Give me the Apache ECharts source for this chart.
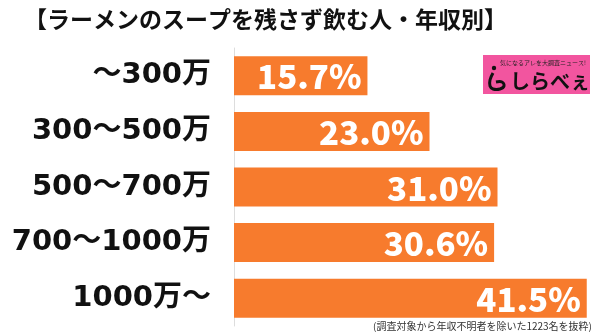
<!DOCTYPE html>
<html>
<head>
<meta charset="utf-8">
<script src="https://cdn.jsdelivr.net/npm/echarts@6/dist/echarts.min.js"></script>
<style>
  html, body { margin: 0; padding: 0; background: #fff; }
  #chart { width: 600px; height: 335px; }
</style>
</head>
<body>
<div id="chart"></div>
<script>
// Income brackets (top to bottom) and share of people who finish the ramen soup
const categories = ['〜300万', '300〜500万', '500〜700万', '700〜1000万', '1000万〜'];
const values = [15.7, 23.0, 31.0, 30.6, 41.5];

const titleText = '【ラーメンのスープを残さず飲む人・年収別】';
const noteText = '(調査対象から年収不明者を除いた1223名を抜粋)';

const FONT = '"Noto Sans CJK JP", "Noto Sans", sans-serif';
const WIDE_FONT = '"DejaVu Sans", "Noto Sans CJK JP", sans-serif';
const BAR_COLOR = '#F77B2D';

const chart = echarts.init(document.getElementById('chart'), null, { renderer: 'canvas' });

chart.setOption({
  backgroundColor: '#ffffff',
  animation: false,
  title: {
    text: titleText,
    left: 19,
    top: 3,
    textStyle: { fontFamily: FONT, fontSize: 23, fontWeight: 'bold', color: '#111' }
  },
  grid: { left: 234, right: 9, top: 48, bottom: 9, containLabel: false },
  xAxis: {
    type: 'value',
    min: 0,
    max: 42,
    show: false
  },
  yAxis: {
    type: 'category',
    data: categories,
    inverse: true,
    axisLine: { show: true, lineStyle: { color: '#dddddd', width: 1 } },
    axisTick: { show: false },
    axisLabel: {
      margin: 23,
      fontFamily: WIDE_FONT,
      fontSize: 29,
      fontWeight: 'bold',
      color: '#111'
    }
  },
  series: [{
    type: 'bar',
    data: values,
    barWidth: 39,
    itemStyle: { color: BAR_COLOR },
    label: {
      show: true,
      position: 'insideRight',
      offset: [-1, 1],
      formatter: (p) => p.value.toFixed(1) + '%',
      fontFamily: FONT,
      fontSize: 33,
      fontWeight: 900,
      color: '#ffffff'
    }
  }],
  graphic: [
    {
      type: 'group',
      left: 483,
      top: 55,
      children: [
        { type: 'rect', shape: { x: 0, y: 0, width: 107, height: 39 }, style: { fill: '#F2559F' } },
        { type: 'text', style: { x: 60, y: 8, text: '気になるアレを大調査ニュース!', fontSize: 6, fontFamily: FONT, fill: '#222', align: 'center', verticalAlign: 'middle' } },
        // little mascot: head dot and a curled body
        { type: 'circle', shape: { cx: 11, cy: 13, r: 2.2 }, style: { fill: '#111' } },
        {
          type: 'polyline',
          shape: { points: [[10, 18], [7, 25], [7, 31], [10, 34], [17, 34], [21, 31], [19, 27], [13, 27]], smooth: 0.4 },
          style: { fill: 'none', stroke: '#111', lineWidth: 3 }
        },
        { type: 'text', style: { x: 27, y: 26, text: 'しらべぇ', fontSize: 20, fontWeight: 'bold', fontFamily: FONT, fill: '#111', align: 'left', verticalAlign: 'middle' } }
      ]
    },
    {
      type: 'text',
      right: 8,
      top: 321,
      style: { text: noteText, fontSize: 10, fontFamily: FONT, fill: '#333' }
    }
  ]
});
</script>
</body>
</html>
